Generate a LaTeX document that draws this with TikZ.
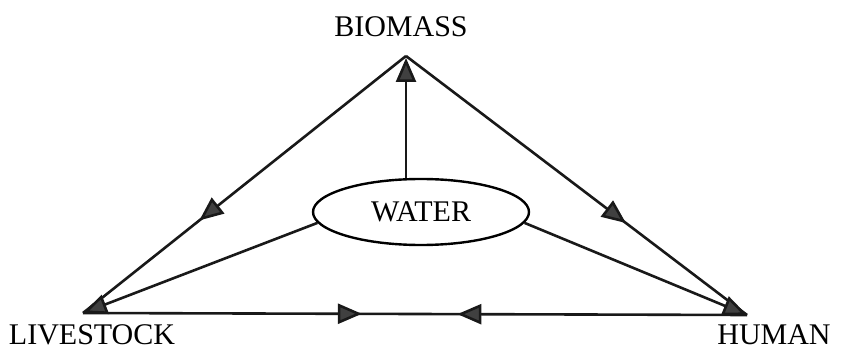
\documentclass[tikz,border=0pt]{standalone}
\usepackage{fontspec}
\setmainfont{Liberation Serif}
\usetikzlibrary{arrows.meta,shapes.geometric,decorations.markings}
\tikzset{
  tri/.tip={Triangle[length=24pt,width=20pt,fill=black!75]},
  conn/.style={line width=2.6pt, draw=black!90},
  lbl/.style={font=\fontsize{30}{31}\selectfont, inner sep=0pt},
  midarrow/.style={postaction={decorate}, decoration={markings, mark=at position #1 with {\arrow{tri}}}},
  twoarrows/.style={postaction={decorate}, decoration={markings,
     mark=at position 0.42 with {\arrow{tri}},
     mark=at position 0.60 with {\arrow{tri[reversed]}}}}
}
\begin{document}
\begin{tikzpicture}[x=1pt,y=-1pt]
\useasboundingbox (0,0) rectangle (845,352);
\coordinate (apex) at (406,56);
\coordinate (ls) at (83,313);
\coordinate (hu) at (747,315);
\node[lbl] (bio) at (401,27) {BIOMASS};
\node[lbl] (liv) at (92,335) {LIVESTOCK};
\node[lbl] (hum) at (774,335) {HUMAN};
\node[lbl, draw, ellipse, line width=2.4pt, minimum width=216pt, minimum height=66pt] (water) at (421,212) {WATER};
% edges of triangle
\draw[conn, midarrow=0.64] (apex) -- (ls);
\draw[conn, midarrow=0.645] (apex) -- (hu);
\draw[conn, twoarrows] (ls) -- (hu);
% water links
\draw[conn, -tri] (water.north -| apex) -- (apex |- 0,58);
\draw[conn, -tri] (water.186) -- (ls);
\draw[conn, -tri] (water.-6) -- (hu);
\end{tikzpicture}
\end{document}
